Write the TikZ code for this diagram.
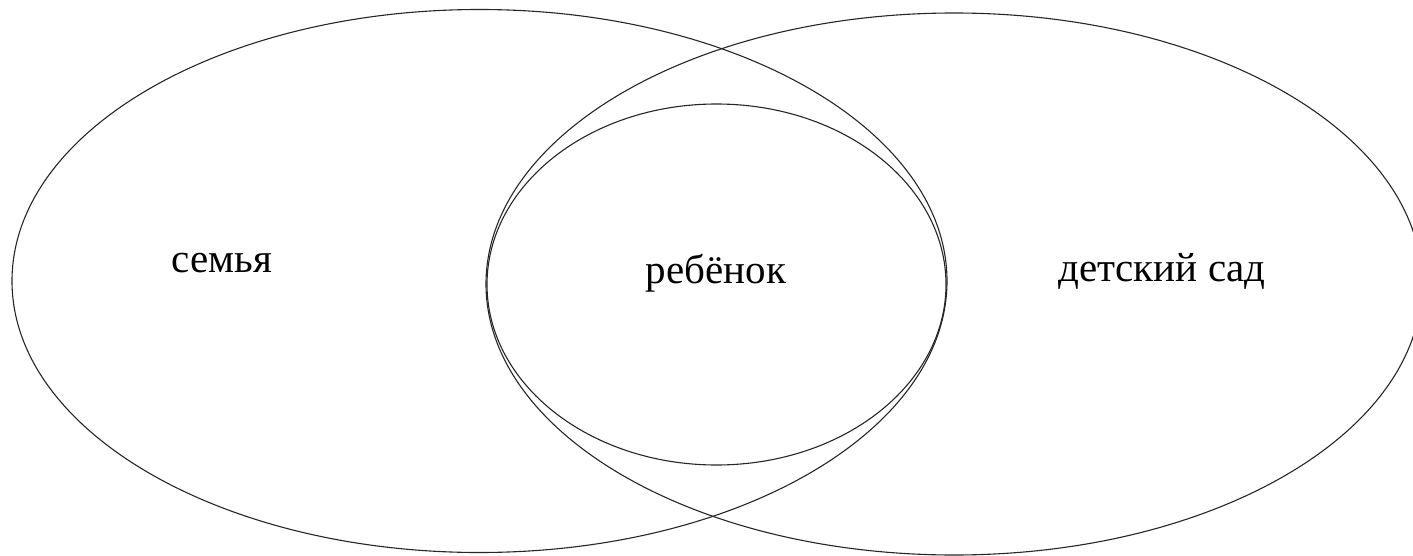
\documentclass[tikz,border=0pt]{standalone}
\usepackage{fontspec}
\setmainfont{Liberation Serif}
\begin{document}
\begin{tikzpicture}[x=0.5pt,y=-0.5pt,
  venn/.style={draw=black!85, line width=0.55pt},
  lbl/.style={anchor=base, font=\fontsize{20.5}{24}\selectfont, inner sep=0pt}]
\useasboundingbox (0,0) rectangle (1413,556);
\clip (0,0) rectangle (1413,556);
\draw[venn] (479.5,281) ellipse [x radius=467.5, y radius=271.5];
\draw[venn] (954,284) ellipse [x radius=468, y radius=271];
\draw[venn] (716.5,284.5) ellipse [x radius=229.5, y radius=180.5];
\node[lbl] (f) at (222,272) {семья};
\node[lbl] (c) at (716,283) {ребёнок};
\node[lbl] (k) at (1162,281) {детский сад};
\end{tikzpicture}
\end{document}
